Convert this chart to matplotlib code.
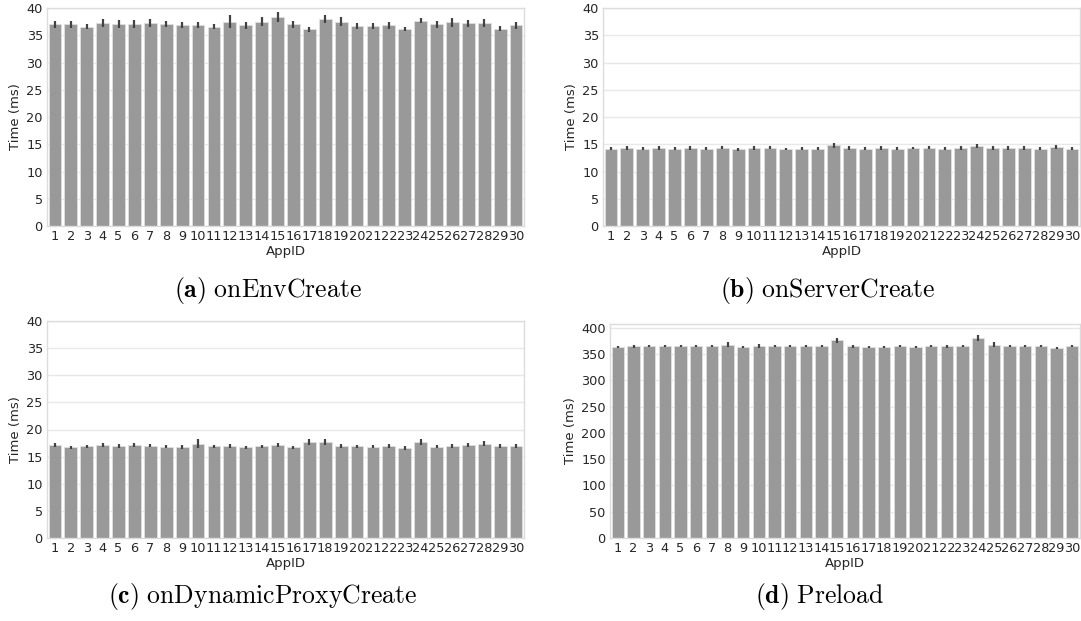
import matplotlib
matplotlib.use("Agg")
import matplotlib.pyplot as plt
import numpy as np

app_ids = [str(i) for i in range(1, 31)]

env_mean = [37.0, 37.0, 36.6, 37.2, 37.1, 37.1, 37.3, 37.1, 36.9, 36.9,
            36.6, 37.5, 36.8, 37.5, 38.3, 37.0, 36.1, 38.0, 37.5, 36.7,
            36.7, 36.8, 36.2, 37.7, 37.0, 37.4, 37.2, 37.3, 36.2, 36.8]
env_err = [0.7, 0.6, 0.5, 0.7, 0.7, 0.7, 0.7, 0.6, 0.6, 0.6,
           0.4, 1.2, 0.6, 0.8, 0.9, 0.6, 0.5, 0.8, 0.8, 0.5,
           0.6, 0.6, 0.4, 0.4, 0.6, 0.8, 0.6, 0.7, 0.5, 0.6]

server_mean = [14.2, 14.3, 14.2, 14.3, 14.2, 14.3, 14.2, 14.4, 14.1, 14.3,
               14.4, 14.2, 14.2, 14.2, 14.8, 14.3, 14.2, 14.3, 14.2, 14.3,
               14.4, 14.2, 14.3, 14.7, 14.3, 14.3, 14.3, 14.2, 14.5, 14.2]
server_err = [0.3, 0.3, 0.3, 0.3, 0.3, 0.3, 0.3, 0.3, 0.3, 0.3,
              0.3, 0.2, 0.3, 0.3, 0.5, 0.3, 0.3, 0.3, 0.3, 0.2,
              0.3, 0.3, 0.3, 0.3, 0.3, 0.3, 0.3, 0.3, 0.3, 0.3]

proxy_mean = [17.1, 16.7, 16.9, 17.2, 17.0, 17.1, 17.0, 16.8, 16.8, 17.4,
              16.9, 16.9, 16.7, 16.9, 17.1, 16.7, 17.7, 17.7, 16.9, 16.9,
              16.8, 17.0, 16.6, 17.7, 16.8, 16.9, 17.1, 17.4, 17.0, 16.9]
proxy_err = [0.4, 0.3, 0.3, 0.4, 0.4, 0.4, 0.3, 0.3, 0.4, 0.9,
             0.3, 0.4, 0.3, 0.3, 0.4, 0.3, 0.5, 0.5, 0.4, 0.3,
             0.3, 0.4, 0.4, 0.5, 0.3, 0.4, 0.4, 0.4, 0.4, 0.4]

preload_mean = [364, 365, 365, 365, 365, 365, 365, 368, 364, 365,
                365, 365, 365, 365, 376, 365, 364, 364, 365, 364,
                365, 365, 365, 380, 368, 365, 365, 365, 361, 365]
preload_err = [2, 3, 2, 2, 2, 2, 2, 5, 2, 4,
               2, 2, 2, 2, 5, 3, 2, 2, 2, 2,
               2, 3, 2, 6, 4, 2, 2, 2, 2, 2]

panels = [
    (env_mean, env_err, 40, np.arange(0, 41, 5), [47, 8, 524, 226]),
    (server_mean, server_err, 40, np.arange(0, 41, 5), [603, 8, 1080, 226]),
    (proxy_mean, proxy_err, 40, np.arange(0, 41, 5), [47, 321, 524, 538]),
    (preload_mean, preload_err, 407, np.arange(0, 401, 50), [610, 324, 1080, 538]),
]
captions = [
    (r"$\mathbf{(a)}\ \mathrm{onEnvCreate}$", 268, 290),
    (r"$\mathbf{(b)}\ \mathrm{onServerCreate}$", 828, 290),
    (r"$\mathbf{(c)}\ \mathrm{onDynamicProxyCreate}$", 263, 597),
    (r"$\mathbf{(d)}\ \mathrm{Preload}$", 820, 597),
]

W, H = 1081, 621
fig = plt.figure(figsize=(W / 100, H / 100), dpi=100)
plt.rcParams['mathtext.fontset'] = 'cm'

txt = '#262626'
for mean, err, ytop, yt, (x0, y0, x1, y1) in panels:
    ax = fig.add_axes([x0 / W, 1 - y1 / H, (x1 - x0) / W, (y1 - y0) / H])
    x = np.arange(len(app_ids))
    ax.bar(x, mean, width=0.8, color='#999999', edgecolor='#e0e0e0', linewidth=0.6, zorder=2)
    ax.errorbar(x, mean, yerr=err, fmt='none', ecolor='#424242', elinewidth=1.6, capsize=0, zorder=3)
    ax.set_xlim(-0.5, len(app_ids) - 0.5)
    ax.set_ylim(0, ytop)
    ax.set_yticks(yt)
    ax.set_xticks(x)
    ax.set_xticklabels(app_ids)
    ax.tick_params(length=0, labelsize=9.3, colors=txt, pad=3)
    ax.grid(axis='y', color='#e8e8e8', linewidth=1.0, zorder=0)
    ax.set_axisbelow(True)
    for s in ax.spines.values():
        s.set_color('#dcdcdc')
        s.set_linewidth(1.0)
    ax.set_ylabel('Time (ms)', fontsize=9.5, color=txt, labelpad=3)
    ax.set_xlabel('AppID', fontsize=9.5, color=txt, labelpad=1)

for t, cx, cy in captions:
    fig.text(cx / W, 1 - cy / H, t, ha='center', va='center', fontsize=18.5,
             math_fontfamily='cm', color='black')

fig.savefig('out.png', dpi=100)
